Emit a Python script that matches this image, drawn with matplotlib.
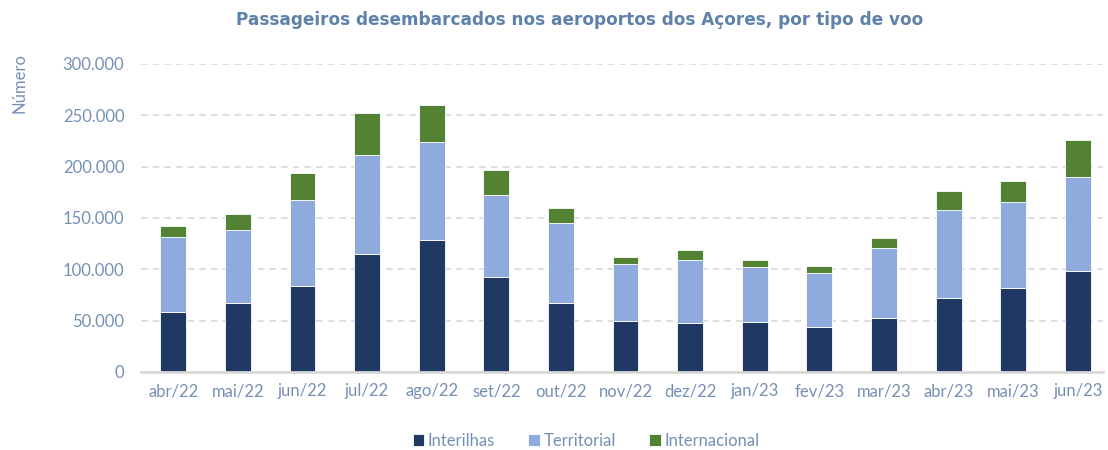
import matplotlib.pyplot as plt
from matplotlib.ticker import FuncFormatter
import numpy as np

# dados (milhares de passageiros)
meses = ["abr/22", "mai/22", "jun/22", "jul/22", "ago/22", "set/22", "out/22", "nov/22",
         "dez/22", "jan/23", "fev/23", "mar/23", "abr/23", "mai/23", "jun/23"]
interilhas = [58.2, 66.8, 83.4, 115.2, 128.9, 92.8, 66.8, 49.3, 47.3, 48.3, 43.5, 52.2, 71.7, 81.4, 98.4]
territorial = [73.7, 71.5, 83.8, 96.5, 95.1, 79.3, 78.3, 55.5, 61.8, 53.6, 53.2, 68.9, 86.4, 83.8, 91.8]
internacional = [10.7, 15.2, 26.3, 40.6, 36.0, 25.0, 14.6, 7.2, 9.7, 6.8, 6.8, 9.4, 18.5, 20.5, 35.4]

inter = np.array(interilhas) * 1000
terr = np.array(territorial) * 1000
intl = np.array(internacional) * 1000

plt.rcParams['font.family'] = ['Lato', 'DejaVu Sans']
txt_cor = '#7590b5'

fig = plt.figure(figsize=(11.08, 4.5), dpi=100)
ax = fig.add_axes([141 / 1108, 1 - 372 / 450, (1103 - 141) / 1108, (372 - 64) / 450])

x = np.arange(len(meses))
w = 0.4
ax.bar(x, inter, w, color='#203864', edgecolor='white', linewidth=0.6, label='Interilhas', zorder=3)
ax.bar(x, terr, w, bottom=inter, color='#8faadc', edgecolor='white', linewidth=0.6, label='Territorial', zorder=3)
ax.bar(x, intl, w, bottom=inter + terr, color='#548235', edgecolor='white', linewidth=0.6, label='Internacional', zorder=3)

ax.set_xlim(-0.5, 14.39)
ax.set_ylim(0, 300000)
ax.set_yticks(np.arange(0, 300001, 50000))
ax.yaxis.set_major_formatter(FuncFormatter(lambda v, p: f"{int(v):,}".replace(",", ".")))
ax.set_xticks(x)
ax.set_xticklabels(meses)

ax.grid(axis='y', color='#d9d9d9', linestyle=(0, (4, 3)), linewidth=1.2, zorder=0)
for s in ['top', 'right', 'left']:
    ax.spines[s].set_visible(False)
ax.spines['bottom'].set_color('#d9d9d9')
ax.spines['bottom'].set_linewidth(2)
ax.spines['bottom'].set_zorder(4)
ax.tick_params(axis='both', length=0, labelsize=12, colors=txt_cor)
ax.tick_params(axis='y', pad=12)
ax.tick_params(axis='x', pad=8)

fig.text(0.523, 1 - 20 / 450, "Passageiros desembarcados nos aeroportos dos Açores, por tipo de voo",
         ha='center', va='center', fontsize=12.2, fontweight='bold', color='#5f82ab',
         family=['DejaVu Sans'])
fig.text(20 / 1108, 1 - 83 / 450, "Número", rotation=90, ha='center', va='center', fontsize=12, color=txt_cor)

leg = fig.legend(loc='center', bbox_to_anchor=(586 / 1108, 1 - 441 / 450), ncol=3, frameon=False,
                 fontsize=12, handlelength=0.7, handleheight=0.7, handletextpad=0.2, columnspacing=2.0)
for t in leg.get_texts():
    t.set_color(txt_cor)

fig.savefig('out.png', dpi=100)
